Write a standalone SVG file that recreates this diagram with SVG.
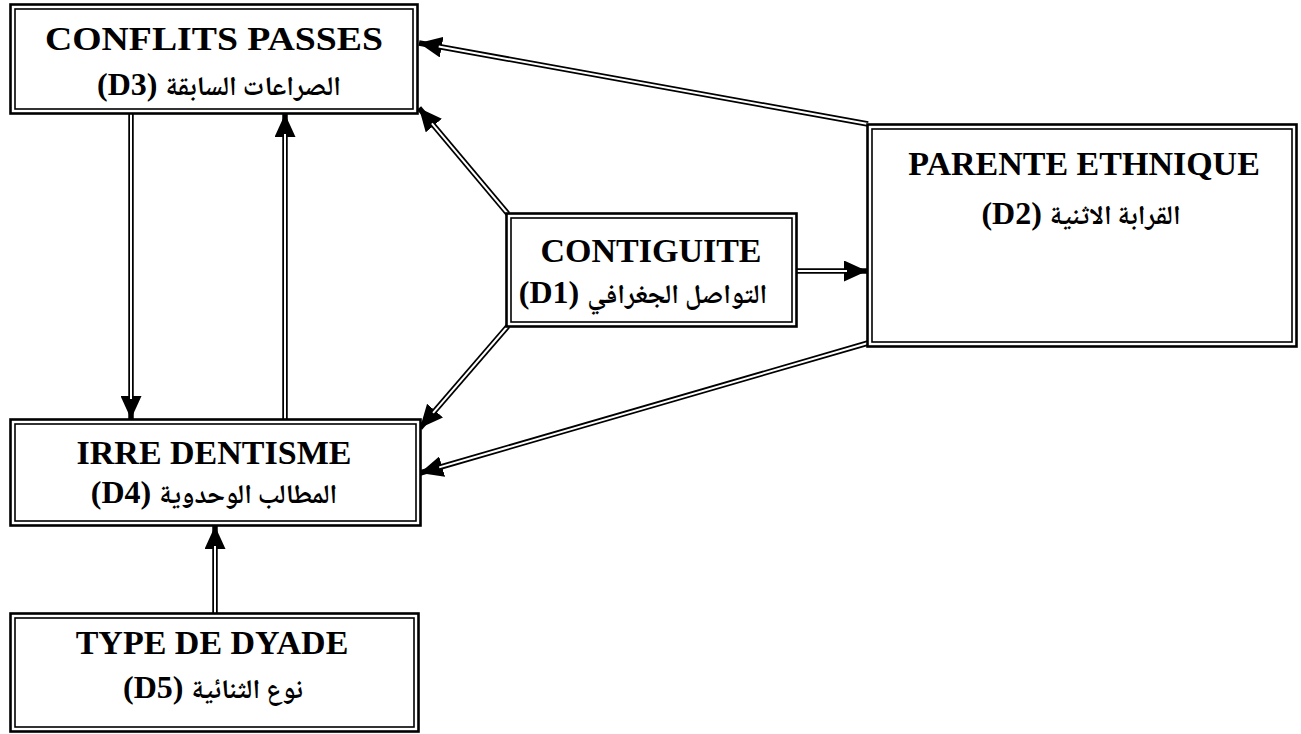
<svg xmlns="http://www.w3.org/2000/svg" width="1301" height="734" viewBox="0 0 1301 734">
<style>
.bg{fill:#fff}
.outer{fill:#fff;stroke:#000;stroke-width:2.6}
.inner{fill:none;stroke:#000;stroke-width:1.6}
.lb{stroke:#000;stroke-width:5.5;fill:none;marker-end:url(#ah)}
.lw{stroke:#fff;stroke-width:2;fill:none}
.t{font-family:"Liberation Serif","Times New Roman",serif;font-weight:bold;font-size:34px;text-anchor:middle;fill:#000}
.a{font-family:"Liberation Serif","Times New Roman",serif;font-weight:bold;font-size:32px;text-anchor:middle;fill:#000}
.ar{font-family:"Noto Naskh Arabic","Noto Sans Arabic","DejaVu Sans",sans-serif;font-weight:bold;font-size:27px}
</style>
<defs>
<marker id="ah" markerUnits="userSpaceOnUse" markerWidth="23" markerHeight="21" refX="23" refY="10.5" orient="auto">
<path d="M0,0 L23,10.5 L0,21 z" fill="#000"/>
</marker>
</defs>
<rect class="bg" x="0" y="0" width="1301" height="734"/>
<g id="connectors">
<path class="lb" d="M868,124 L419,43"/><path class="lw" d="M868,124 L438.7,46.6"/>
<path class="lb" d="M508,214 L419,108"/><path class="lw" d="M508,214 L431.9,123.3"/>
<path class="lb" d="M797,271 L867,271"/><path class="lw" d="M797,271 L847,271"/>
<path class="lb" d="M508,326 L420,428"/><path class="lw" d="M508,326 L433.1,412.9"/>
<path class="lb" d="M868,343 L420,473"/><path class="lw" d="M868,343 L439.2,467.4"/>
<path class="lb" d="M131,114 L131,419"/><path class="lw" d="M131,114 L131,399"/>
<path class="lb" d="M285,419 L285,114"/><path class="lw" d="M285,419 L285,134"/>
<path class="lb" d="M215,613 L215,526"/><path class="lw" d="M215,613 L215,546"/>
</g>
<g id="D3">
<rect class="outer" x="10.5" y="4.5" width="407" height="109"/>
<rect class="inner" x="15" y="9" width="398" height="100"/>
<text class="t" x="214" y="50" textLength="338" lengthAdjust="spacingAndGlyphs">CONFLITS PASSES</text>
<text class="a" x="219" y="95">(D3) <tspan class="ar">الصراعات السابقة</tspan></text>
</g>
<g id="D1">
<rect class="outer" x="506.5" y="213.5" width="290" height="113"/>
<rect class="inner" x="511" y="218" width="281" height="104"/>
<text class="t" x="651" y="262">CONTIGUITE</text>
<text class="a" x="643" y="303">(D1) <tspan class="ar">التواصل الجغرافي</tspan></text>
</g>
<g id="D2">
<rect class="outer" x="867.5" y="124.5" width="429" height="222"/>
<rect class="inner" x="872" y="129" width="420" height="213"/>
<text class="t" x="1084" y="175">PARENTE ETHNIQUE</text>
<text class="a" x="1081" y="224">(D2) <tspan class="ar">القرابة الاثنية</tspan></text>
</g>
<g id="D4">
<rect class="outer" x="10.5" y="419.5" width="410" height="106"/>
<rect class="inner" x="15" y="424" width="401" height="97"/>
<text class="t" x="214" y="464">IRRE DENTISME</text>
<text class="a" x="214" y="503">(D4) <tspan class="ar">المطالب الوحدوية</tspan></text>
</g>
<g id="D5">
<rect class="outer" x="10.5" y="613.5" width="408" height="118"/>
<rect class="inner" x="15" y="618" width="399" height="109"/>
<text class="t" x="212" y="654">TYPE DE DYADE</text>
<text class="a" x="213" y="698">(D5) <tspan class="ar">نوع الثنائية</tspan></text>
</g>
</svg>
